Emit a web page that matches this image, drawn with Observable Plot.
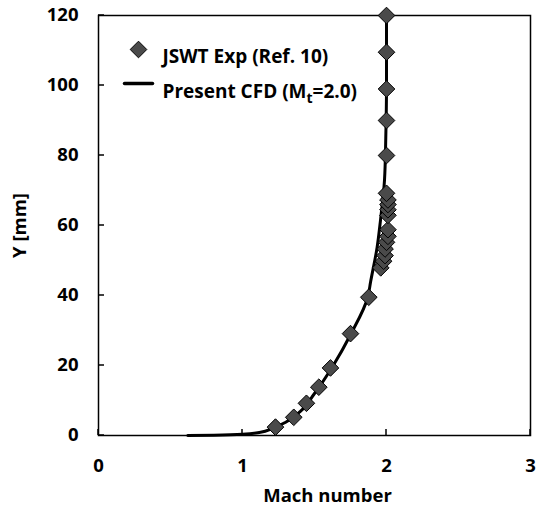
<!DOCTYPE html>
<html><head><meta charset="utf-8">
<script src="https://cdn.jsdelivr.net/npm/d3@7"></script>
<script src="https://cdn.jsdelivr.net/npm/@observablehq/plot@0.6"></script>
<style>
body{margin:0;background:#fff}
#chart{position:relative;width:544px;height:509px}
svg text{font-family:"Open Sans","Noto Sans",sans-serif;font-weight:bold}
</style>
</head><body><div id="chart"></div>
<script>
// Experimental data (JSWT Exp, Ref. 10)
const expMach = [1.229, 1.356, 1.444, 1.53, 1.611, 1.75, 1.877, 1.96, 1.98, 1.99, 1.99, 2.0, 2.01, 2.01, 2.01, 2.01, 2.01, 2.01, 2.0, 2.0, 2.0, 2.0, 2.0, 2.0];
const expY    = [2.4, 5.2, 9.2, 13.8, 19.3, 29.1, 39.5, 47.9, 49.8, 51.4, 53.3, 55.2, 56.9, 58.8, 62.9, 64.5, 66, 67.3, 69.2, 80, 90, 99, 109.5, 120];
// Present CFD (Mt=2.0)
const cfdMach = [0.62, 0.8, 1.0, 1.125, 1.2, 1.3, 1.4, 1.5, 1.63, 1.75, 1.87, 1.89, 1.935, 1.958, 1.986, 1.995, 2.0, 2.0];
const cfdY    = [0, 0.1, 0.35, 0.95, 1.9, 3.8, 6.8, 12, 20, 28.8, 39.5, 44, 53.8, 61.4, 72.9, 85, 100, 120];
const xTicks = [0, 1, 2, 3];
const yTicks = [0, 20, 40, 60, 80, 100, 120];
const xLabel = "Mach number";
const yLabel = "Y [mm]";
const legendExp = "JSWT Exp (Ref. 10)";
const legendCfd = ["Present CFD (M", "t", "=2.0)"];

const expData = expMach.map((m, i) => ({m, y: expY[i]}));
const cfdData = cfdMach.map((m, i) => ({m, y: cfdY[i]}));
const lineShape = {draw(c, l) { c.moveTo(0, 0); c.lineTo(0, -l); }};

const W = 544, H = 509, ML = 98, MR = 14, MT = 15, MB = 74, TICK = 6;

const plot = Plot.plot({
  width: W, height: H,
  marginLeft: ML, marginRight: MR, marginTop: MT, marginBottom: MB,
  style: {fontSize: "18px", background: "#fff", color: "#000"},
  x: {domain: [0, 3], ticks: xTicks, tickFormat: "d"},
  y: {domain: [0, 120], ticks: yTicks, tickFormat: "d"},
  marks: [
    Plot.axisX({ticks: xTicks, tickFormat: "d", tickSize: 0, tickPadding: 23, label: null, fontSize: 18.5}),
    Plot.axisY({ticks: yTicks, tickFormat: "d", tickSize: 0, tickPadding: 20, label: null, fontSize: 18.5}),
    Plot.frame({stroke: "#000", strokeWidth: 1.5}),
    Plot.text([xLabel], {frameAnchor: "bottom", dx: 13, dy: 66, text: d => d, textAnchor: "middle", fontSize: 18.5, fill: "#000"}),
    Plot.text([yLabel], {frameAnchor: "left", dx: -78, rotate: -90, text: d => d, textAnchor: "middle", fontSize: 18.5, fill: "#000"}),
    Plot.line(cfdData, {x: "m", y: "y", stroke: "#000", strokeWidth: 3, curve: "monotone-y"}),
    Plot.dot(expData, {x: "m", y: "y", symbol: "diamond2", r: 7.5, fill: "#4a4a4a", stroke: "#000", strokeWidth: 1}),
    // legend
    Plot.dot([legendExp], {frameAnchor: "top-left", dx: 40, dy: 34, symbol: "diamond2", r: 7.5, fill: "#4a4a4a", stroke: "#000", strokeWidth: 1}),
    Plot.text([legendExp], {frameAnchor: "top-left", dx: 64, dy: 34, text: d => d, textAnchor: "start", fontSize: 19, fill: "#000"}),
    Plot.vector([legendCfd[0]], {frameAnchor: "top-left", dx: 26, dy: 68, length: 28, rotate: 90, anchor: "start", stroke: "#000", strokeWidth: 3.5, shape: lineShape}),
    Plot.text([legendCfd.join("")], {frameAnchor: "top-left", dx: 64, dy: 69, text: d => d, textAnchor: "start", fontSize: 19, fill: "#000"})
  ]
});
document.getElementById("chart").appendChild(plot);

// inward tick marks, positioned with the plot's own scales
const sx = plot.scale("x"), sy = plot.scale("y");
const yBottom = sy.apply(sy.domain[0]), xLeft = sx.apply(sx.domain[0]);
const tg = d3.select(plot).append("g").attr("stroke", "#000").attr("stroke-width", 1.5);
xTicks.forEach(v => tg.append("line")
  .attr("x1", sx.apply(v)).attr("x2", sx.apply(v))
  .attr("y1", yBottom).attr("y2", yBottom - TICK));
yTicks.forEach(v => tg.append("line")
  .attr("x1", xLeft).attr("x2", xLeft + TICK)
  .attr("y1", sy.apply(v)).attr("y2", sy.apply(v)));

// subscript on the legend text
plot.querySelectorAll("text").forEach(t => {
  if (t.textContent === legendCfd.join("")) {
    t.textContent = "";
    const ns = "http://www.w3.org/2000/svg";
    const a = document.createElementNS(ns, "tspan"); a.textContent = legendCfd[0];
    const b = document.createElementNS(ns, "tspan"); b.textContent = legendCfd[1]; b.setAttribute("dy", "5"); b.setAttribute("font-size", "14");
    const c = document.createElementNS(ns, "tspan"); c.textContent = legendCfd[2]; c.setAttribute("dy", "-5");
    t.append(a, b, c);
  }
});
</script>
</body></html>
